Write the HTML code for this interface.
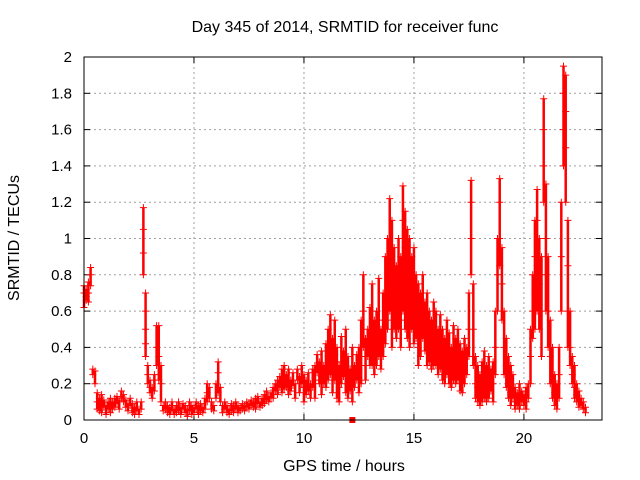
<!DOCTYPE html>
<html><head><meta charset="utf-8"><style>
body{margin:0;background:#fff}
svg{display:block;font-family:"Liberation Sans",sans-serif}
</style></head><body>
<svg id="chart" width="640" height="480">
<text x="345" y="32" font-size="16" text-anchor="middle">Day 345 of 2014, SRMTID for receiver func</text>
<text x="344" y="471" font-size="16" text-anchor="middle">GPS time / hours</text>
<text transform="translate(19,238) rotate(-90)" font-size="16" text-anchor="middle">SRMTID / TECUs</text>
<g id="grid"></g>
<g id="ticks"></g>
<g id="marks"></g>
<rect x="84" y="57" width="518" height="363" fill="none" stroke="#000" stroke-width="1"/>
</svg>
<script>
const xTicks=[0,5,10,15,20];
const yTicks=[0,0.2,0.4,0.6,0.8,1,1.2,1.4,1.6,1.8,2];
const yTickLabels=["0","0.2","0.4","0.6","0.8","1","1.2","1.4","1.6","1.8","2"];
const hours=[0.0,0.1,0.2,0.3,0.4,0.5,0.6,0.7,0.8,0.9,1.0,1.1,1.2,1.3,1.4,1.5,1.6,1.7,1.8,1.9,2.0,2.1,2.2,2.3,2.4,2.5,2.6,2.7,2.8,2.9,3.0,3.1,3.2,3.3,3.4,3.5,3.6,3.7,3.8,3.9,4.0,4.1,4.2,4.3,4.4,4.5,4.6,4.7,4.8,4.9,5.0,5.1,5.2,5.3,5.4,5.5,5.6,5.7,5.8,5.9,6.0,6.1,6.2,6.3,6.4,6.5,6.6,6.7,6.8,6.9,7.0,7.1,7.2,7.3,7.4,7.5,7.6,7.7,7.8,7.9,8.0,8.1,8.2,8.3,8.4,8.5,8.6,8.7,8.8,8.9,9.0,9.1,9.2,9.3,9.4,9.5,9.6,9.7,9.8,9.9,10.0,10.1,10.2,10.3,10.4,10.5,10.6,10.7,10.8,10.9,11.0,11.1,11.2,11.3,11.4,11.5,11.6,11.7,11.8,11.9,12.0,12.1,12.2,12.3,12.4,12.5,12.6,12.7,12.8,12.9,13.0,13.1,13.2,13.3,13.4,13.5,13.6,13.7,13.8,13.9,14.0,14.1,14.2,14.3,14.4,14.5,14.6,14.7,14.8,14.9,15.0,15.1,15.2,15.3,15.4,15.5,15.6,15.7,15.8,15.9,16.0,16.1,16.2,16.3,16.4,16.5,16.6,16.7,16.8,16.9,17.0,17.1,17.2,17.3,17.4,17.5,17.6,17.7,17.8,17.9,18.0,18.1,18.2,18.3,18.4,18.5,18.6,18.7,18.8,18.9,19.0,19.1,19.2,19.3,19.4,19.5,19.6,19.7,19.8,19.9,20.0,20.1,20.2,20.3,20.4,20.5,20.6,20.7,20.8,20.9,21.0,21.1,21.2,21.3,21.4,21.5,21.6,21.7,21.8,21.9,22.0,22.1,22.2,22.3,22.4,22.5,22.6,22.7,22.8];
const srmtid=[[0.62,0.7,0.74],[0.66,0.72,0.68],[0.7,0.76,0.65],[0.8,0.84,0.74],[0.28,0.25],[0.27,0.2],[0.15,0.1,0.06],[0.12,0.05],[0.09,0.04,0.14],[0.07,0.11],[0.03,0.08],[0.06,0.1],[0.08,0.12,0.04],[0.1,0.06],[0.07,0.12],[0.09,0.13],[0.11,0.06],[0.16,0.12],[0.1,0.14],[0.07,0.11],[0.05,0.09],[0.08,0.12],[0.04,0.09],[0.03,0.07],[0.05,0.1],[0.06,0.03],[0.1,0.06],[1.17,1.05,0.92,0.8],[0.7,0.6,0.5,0.42,0.35],[0.3,0.25,0.2],[0.22,0.15,0.18],[0.18,0.12],[0.25,0.16],[0.52,0.4,0.3],[0.52,0.35,0.22],[0.3,0.1,0.2],[0.08,0.05],[0.06,0.1],[0.04,0.08],[0.07,0.03],[0.1,0.05],[0.06,0.03],[0.08,0.04],[0.05,0.1],[0.03,0.07],[0.06,0.09],[0.04,0.08],[0.02,0.06],[0.05,0.1],[0.08,0.03],[0.04,0.07],[0.06,0.1],[0.03,0.08],[0.05,0.09],[0.07,0.04],[0.12,0.06],[0.2,0.15,0.1],[0.18,0.12],[0.1,0.06],[0.05,0.08],[0.12,0.2],[0.32,0.26,0.15],[0.18,0.1],[0.08,0.04],[0.06,0.1],[0.04,0.08],[0.03,0.06],[0.05,0.09],[0.08,0.04],[0.06,0.1],[0.04,0.08],[0.07,0.05],[0.09,0.06],[0.05,0.08],[0.07,0.1],[0.06,0.09],[0.08,0.11],[0.1,0.07],[0.06,0.12],[0.09,0.13],[0.1,0.07],[0.12,0.08],[0.09,0.14],[0.11,0.16],[0.13,0.1],[0.15,0.12],[0.12,0.18],[0.16,0.2],[0.14,0.22],[0.18,0.24],[0.2,0.28,0.15],[0.22,0.3,0.17],[0.25,0.18],[0.2,0.28,0.14],[0.22,0.16],[0.26,0.19],[0.2,0.12],[0.28,0.22],[0.15,0.24],[0.3,0.2],[0.18,0.1,0.25],[0.22,0.14],[0.26,0.16],[0.12,0.2],[0.28,0.18],[0.3,0.22,0.12],[0.36,0.26],[0.2,0.32],[0.38,0.24,0.14],[0.3,0.2],[0.42,0.28,0.18],[0.5,0.35,0.22],[0.58,0.4,0.25],[0.45,0.3,0.15],[0.55,0.36,0.22],[0.4,0.25,0.12],[0.3,0.18,0.1],[0.46,0.32,0.2],[0.38,0.24],[0.5,0.3,0.15],[0.35,0.2,0.12],[0.28,0.16],[0.4,0.25,0.1],[0.3,0.18],[0.36,0.22],[0.4,0.28,0.15],[0.55,0.35,0.2],[0.8,0.6,0.4],[0.45,0.3,0.22],[0.5,0.35],[0.62,0.42,0.3],[0.75,0.5,0.3],[0.55,0.4,0.25],[0.6,0.45,0.3],[0.78,0.55,0.35],[0.5,0.38,0.28],[0.7,0.5,0.35],[0.9,0.6,0.42],[1.0,0.7,0.5],[1.22,0.9,0.6],[1.1,0.8,0.55,0.4],[0.95,0.7,0.5],[0.85,0.6,0.45],[1.0,0.75,0.5],[0.9,0.7,0.55,0.4],[1.29,1.1,0.8,0.6],[1.15,0.95,0.7,0.5],[1.05,0.85,0.6,0.45],[1.0,0.8,0.55,0.4],[0.9,0.7,0.5],[0.95,0.75,0.55,0.42],[0.8,0.6,0.45],[0.75,0.55,0.4,0.3],[0.7,0.5,0.35],[0.8,0.6,0.45],[0.65,0.5,0.38],[0.7,0.55,0.4,0.3],[0.6,0.45,0.32],[0.55,0.4,0.28],[0.65,0.45,0.3],[0.6,0.42,0.3],[0.5,0.35,0.25],[0.58,0.4,0.28],[0.5,0.35,0.22],[0.45,0.32,0.2],[0.55,0.38,0.25],[0.48,0.3,0.2],[0.4,0.28,0.18],[0.52,0.35,0.22],[0.45,0.3,0.2],[0.5,0.32,0.22],[0.42,0.28,0.16],[0.38,0.25,0.15],[0.45,0.3,0.2],[0.4,0.25],[0.7,0.5,0.35],[1.32,1.2,1.0,0.8],[0.75,0.5,0.3],[0.35,0.2,0.12],[0.3,0.18,0.1],[0.25,0.15,0.08],[0.32,0.2,0.1],[0.38,0.25,0.12],[0.3,0.18,0.1],[0.35,0.2,0.12],[0.28,0.16],[0.32,0.2,0.1],[0.6,0.4,0.25],[1.0,0.8,0.6],[1.33,1.2,1.0,0.85],[0.95,0.75,0.55],[0.6,0.4,0.25],[0.45,0.3,0.18],[0.35,0.2,0.12],[0.3,0.15,0.08],[0.25,0.12],[0.18,0.1,0.06],[0.15,0.08],[0.2,0.12,0.06],[0.16,0.1],[0.14,0.08],[0.18,0.1,0.06],[0.2,0.12],[0.5,0.35,0.2],[0.8,0.6,0.45],[1.1,0.9,0.7,0.5],[1.27,1.1,0.85,0.6],[1.0,0.75,0.5],[0.9,0.6,0.35],[1.77,1.6,1.4,1.2],[1.3,1.0,0.8,0.6],[0.9,0.6,0.4],[0.55,0.35,0.2],[0.4,0.2,0.12],[0.25,0.15,0.08],[0.2,0.12,0.06],[0.4,0.25,0.12],[1.2,0.9,0.6],[1.95,1.8,1.6,1.4],[1.9,1.7,1.5,1.2],[1.1,0.85,0.6,0.4],[0.6,0.4,0.3],[0.35,0.25,0.2],[0.3,0.18,0.12],[0.2,0.14,0.1],[0.16,0.1,0.07],[0.12,0.08],[0.1,0.06],[0.07,0.04]];
const outlierHours=[12.2];
const outlierValues=[0];

const X0=84,X1=602,Y0=420,Y1=57,XMAX=23.55,YMAX=2;
function sx(h){return X0+h/XMAX*(X1-X0);}
function sy(v){return Y0-v/YMAX*(Y0-Y1);}
const NS="http://www.w3.org/2000/svg";
function mk(tag,attrs,parent){const e=document.createElementNS(NS,tag);for(const k in attrs)e.setAttribute(k,attrs[k]);parent.appendChild(e);return e;}
const grid=document.getElementById('grid'),ticks=document.getElementById('ticks'),marks=document.getElementById('marks');
xTicks.forEach((t,i)=>{
  const x=sx(t);
  if(t>0){const g=mk('line',{x1:x,x2:x,y1:Y1,y2:Y0,stroke:'#a0a0a0','stroke-dasharray':'2,3'},grid);
  
  }
  mk('line',{x1:x,x2:x,y1:Y0,y2:Y0-6,stroke:'#000'},ticks);
  mk('line',{x1:x,x2:x,y1:Y1,y2:Y1+6,stroke:'#000'},ticks);
  const l=mk('text',{x:x,y:Y0+23,'font-size':15,'text-anchor':'middle'},ticks);
  l.textContent=String(t);
  
  
});
yTicks.forEach((t,i)=>{
  const y=sy(t);
  if(t>0&&t<YMAX){const g=mk('line',{x1:X0,x2:X1,y1:y,y2:y,stroke:'#a0a0a0','stroke-dasharray':'2,3'},grid);
  
  }
  mk('line',{x1:X0,x2:X0+6,y1:y,y2:y,stroke:'#000'},ticks);
  mk('line',{x1:X1,x2:X1-6,y1:y,y2:y,stroke:'#000'},ticks);
  const l=mk('text',{x:X0-12,y:y+5,'font-size':15,'text-anchor':'end'},ticks);
  l.textContent=yTickLabels[i];
  
  
});
let d='',r='';
hours.forEach((h,i)=>{
  const x=sx(h);
  const vs=srmtid[i];
  const lo=Math.min(...vs),hi=Math.max(...vs);
  r+=`M${x},${sy(hi)}V${sy(lo)}`;
  vs.forEach(v=>{const y=sy(v);d+=`M${x-3.5},${y}h7M${x},${y-3.5}v7`;});
});
const band=mk('path',{d:r,stroke:'#ff0000','stroke-width':2.5,fill:'none'},marks);


const p=mk('path',{d:d,stroke:'#ff0000','stroke-width':1,fill:'none'},marks);


outlierHours.forEach((h,i)=>{
  const rc=mk('rect',{x:sx(h)-3,y:sy(outlierValues[i])-3,width:6,height:6,fill:'#ff0000'},marks);
  
  
});
</script>
</body></html>
